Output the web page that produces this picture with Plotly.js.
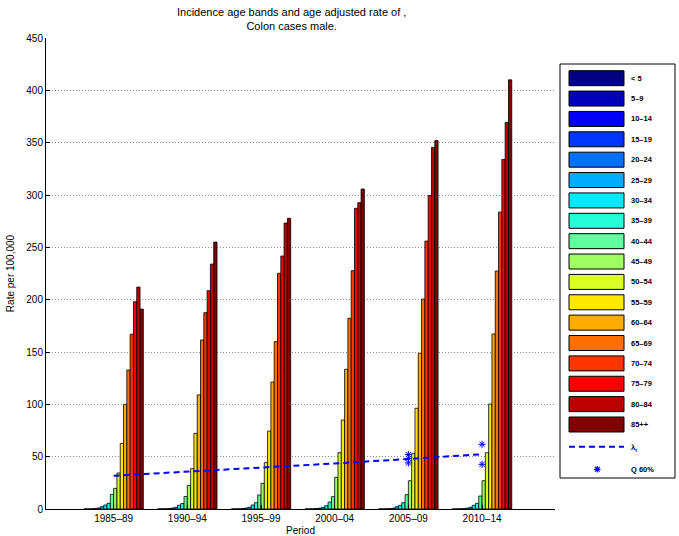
<!DOCTYPE html>
<html>
<head>
<meta charset="utf-8">
<script src="https://cdn.plot.ly/plotly-3.0.1.min.js"></script>
<style>html,body{margin:0;padding:0;background:#fff;}#chart{width:679px;height:536px;}</style>
</head>
<body>
<div id="chart"></div>
<script>
// ---- data ----
const periods = ['1985–89', '1990–94', '1995–99', '2000–04', '2005–09', '2010–14'];
const ageBands = ['< 5', '5–9', '10–14', '15–19', '20–24', '25–29', '30–34', '35–39', '40–44',
                  '45–49', '50–54', '55–59', '60–64', '65–69', '70–74', '75–79', '80–84', '85++'];
// rate per 100,000 by age band, one array per period
const rates1985_89 = [0.1, 0.1, 0.2, 0.5, 1.0, 2.2, 3.8, 5.4, 14.0, 19.7, 34.4, 62.7, 100.0, 132.8, 167.0, 198.0, 212.0, 191.0];
const rates1990_94 = [0.1, 0.1, 0.2, 0.5, 0.9, 1.6, 3.6, 5.2, 12.0, 22.5, 38.5, 72.3, 109.0, 161.5, 187.6, 208.6, 234.0, 255.0];
const rates1995_99 = [0.1, 0.1, 0.2, 0.4, 0.9, 1.6, 3.8, 6.0, 13.4, 24.5, 44.3, 74.5, 121.3, 159.9, 225.2, 241.7, 273.2, 277.7];
const rates2000_04 = [0.1, 0.1, 0.2, 0.4, 0.8, 1.6, 3.2, 6.6, 11.8, 30.3, 53.8, 85.0, 133.5, 182.2, 227.7, 287.3, 292.7, 305.7];
const rates2005_09 = [0.1, 0.1, 0.2, 0.4, 0.8, 2.2, 3.5, 6.0, 13.7, 27.0, 53.2, 96.2, 148.8, 200.6, 256.0, 299.5, 345.5, 352.0];
const rates2010_14 = [0.1, 0.1, 0.2, 0.4, 0.8, 1.6, 3.5, 5.4, 12.4, 27.0, 53.8, 100.3, 167.2, 227.4, 283.7, 334.0, 369.4, 410.0];
// age adjusted rate (lambda_t)
const lambdaRates = [31.8, 35.5, 39.5, 43.5, 47.8, 52.3];
// Q 60% points
const q60Periods = ['2005–09', '2005–09', '2005–09', '2010–14', '2010–14'];
const q60Values = [52.0, 48.3, 44.0, 61.8, 42.7];
const yTickVals = [0, 50, 100, 150, 200, 250, 300, 350, 400, 450];

// ---- styles ----
const bandColors = ['rgb(0,0,128)', 'rgb(0,0,187)', 'rgb(0,0,247)', 'rgb(0,53,255)', 'rgb(0,112,255)',
  'rgb(0,172,255)', 'rgb(0,233,255)', 'rgb(37,255,217)', 'rgb(97,255,158)', 'rgb(158,255,97)',
  'rgb(217,255,37)', 'rgb(255,233,0)', 'rgb(255,172,0)', 'rgb(255,112,0)', 'rgb(255,53,0)',
  'rgb(247,0,0)', 'rgb(187,0,0)', 'rgb(128,0,0)'];
const FONT = 'Liberation Sans, Arial, sans-serif';

const allRates = [rates1985_89, rates1990_94, rates1995_99, rates2000_04, rates2005_09, rates2010_14];

const traces = ageBands.map((band, a) => ({
  type: 'bar',
  name: band,
  x: periods,
  y: allRates.map(r => r[a]),
  marker: {color: bandColors[a], line: {color: '#000', width: 0.8}},
  showlegend: false,
  hoverinfo: 'x+y+name'
}));

traces.push({
  type: 'scatter', mode: 'lines', name: 'λt',
  x: periods, y: lambdaRates,
  line: {color: '#0000ff', width: 2, dash: '6px,4px'},
  showlegend: false
});
traces.push({
  type: 'scatter', mode: 'markers', name: 'Q 60%',
  x: q60Periods, y: q60Values,
  marker: {symbol: 'asterisk-open', size: 6, color: '#0000ff', line: {color: '#0000ff', width: 1}},
  showlegend: false
});

// ---- custom legend (pixel positions converted to paper coords) ----
const W = 679, H = 536, L = 46, R = 555, T = 38, B = 509;
const px = x => (x - L) / (R - L);
const py = y => (B - y) / (B - T);
const shapes = [];
const annotations = [];
shapes.push({type: 'rect', xref: 'paper', yref: 'paper', x0: px(560), x1: px(675), y0: py(64), y1: py(478),
  line: {color: '#000', width: 1}, fillcolor: '#fff', layer: 'below'});
ageBands.forEach((band, i) => {
  const top = 70.7 + 20.37 * i;
  shapes.push({type: 'rect', xref: 'paper', yref: 'paper', x0: px(569), x1: px(624), y0: py(top), y1: py(top + 15),
    line: {color: '#000', width: 1}, fillcolor: bandColors[i]});
  annotations.push({xref: 'paper', yref: 'paper', x: px(629), y: py(top + 7.5), text: '<b>' + band + '</b>',
    showarrow: false, xanchor: 'left', yanchor: 'middle', font: {family: FONT, size: 7.5, color: '#000'}});
});
shapes.push({type: 'line', xref: 'paper', yref: 'paper', x0: px(569), x1: px(624), y0: py(446.7), y1: py(446.7),
  line: {color: '#0000ff', width: 2, dash: '6px,4px'}});
annotations.push({xref: 'paper', yref: 'paper', x: px(629), y: py(448), text: '<b>λ<sub>t</sub></b>',
  showarrow: false, xanchor: 'left', yanchor: 'middle', font: {family: FONT, size: 7.5, color: '#000'}});
// asterisk glyph for Q 60%
(function () {
  const cx = 597.3, cy = 469.3, r = 3.2, d = 2.3;
  const seg = (x0, y0, x1, y1) => `M${px(x0)},${py(y0)} L${px(x1)},${py(y1)} `;
  shapes.push({type: 'path', xref: 'paper', yref: 'paper',
    path: seg(cx - r, cy, cx + r, cy) + seg(cx, cy - r, cx, cy + r) + seg(cx - d, cy - d, cx + d, cy + d) + seg(cx - d, cy + d, cx + d, cy - d),
    line: {color: '#0000ff', width: 1.2}});
})();
annotations.push({xref: 'paper', yref: 'paper', x: px(629), y: py(469.3), text: '<b>Q 60%</b>',
  showarrow: false, xanchor: 'left', yanchor: 'middle', font: {family: FONT, size: 7.5, color: '#000'}});
// chart title
annotations.push({xref: 'paper', yref: 'paper', x: px(291), y: py(4), xanchor: 'center', yanchor: 'top',
  text: 'Incidence age bands and age adjusted rate of ,<br>Colon cases male.', showarrow: false,
  font: {family: FONT, size: 11, color: '#000'}});

const layout = {
  width: W, height: H,
  margin: {l: L, r: W - R, t: T, b: H - B, pad: 0},
  paper_bgcolor: '#fff', plot_bgcolor: '#fff',
  font: {family: FONT, size: 10, color: '#000'},
  barmode: 'group', bargap: 0.194, bargroupgap: 0,
  showlegend: false,
  xaxis: {
    type: 'category', range: [-0.918, 5.99], fixedrange: true,
    showline: true, linecolor: '#000', linewidth: 1, mirror: false,
    ticks: 'inside', ticklen: 4, tickcolor: '#000', showgrid: false, zeroline: false,
    tickfont: {size: 10, color: '#000'},
    title: {text: 'Period', font: {size: 10, color: '#000'}, standoff: 3}
  },
  yaxis: {
    range: [0, 450], tickvals: yTickVals, fixedrange: true,
    showline: true, linecolor: '#000', linewidth: 1, mirror: false,
    ticks: 'inside', ticklen: 4, tickcolor: '#000',
    showgrid: true, gridcolor: '#888', gridwidth: 1, griddash: '1px,2px', zeroline: false,
    tickfont: {size: 10, color: '#000'},
    title: {text: 'Rate per 100,000', font: {size: 10, color: '#000'}, standoff: 9}
  },
  shapes: shapes,
  annotations: annotations
};

Plotly.newPlot('chart', traces, layout, {displayModeBar: false, staticPlot: true});
</script>
</body>
</html>
